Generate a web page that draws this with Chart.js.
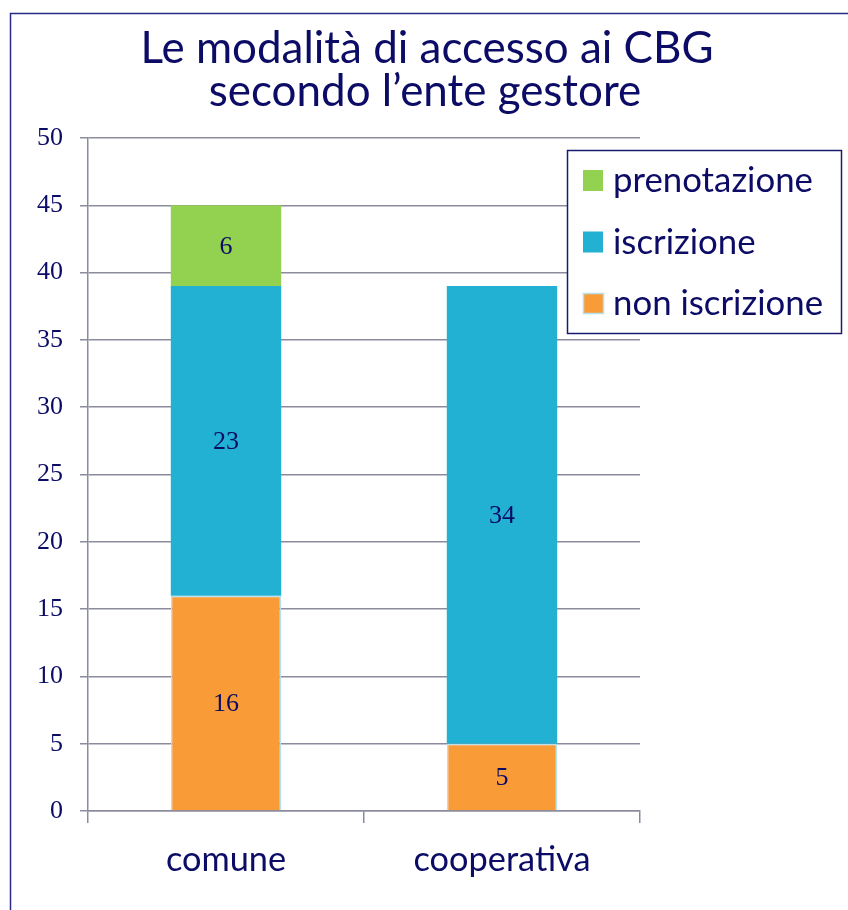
<!DOCTYPE html>
<html><head><meta charset="utf-8">
<script src="https://cdn.jsdelivr.net/npm/chart.js@4"></script>
<style>html,body{margin:0;padding:0;background:#fff;}canvas{display:block;}</style>
</head><body>
<canvas id="c" width="848" height="910"></canvas>
<script>
const titleLines = ['Le modalità di accesso ai CBG', 'secondo l\u2019ente gestore'];
const categories = ['comune', 'cooperativa'];
const seriesNames = ['non iscrizione', 'iscrizione', 'prenotazione'];
const nonIscrizione = [16, 5];
const iscrizione = [23, 34];
const prenotazione = [6, null];
const yMin = 0, yMax = 50, yStep = 5;

const NAVY = '#0c0c66';
const GRID = '#8b8b9e';
const SANS = 'Lato, "Open Sans", sans-serif';
const SERIF = '"Liberation Serif", "Times New Roman", serif';

const mctx = document.createElement('canvas').getContext('2d');
function fitSize(text, family, width) {
  mctx.font = '100px ' + family;
  return 100 * width / mctx.measureText(text).width;
}
const titleSize = fitSize(titleLines[0], SANS, 573);
const xLabelSize = fitSize('cooperativa', SANS, 177);
const legendSize = fitSize('prenotazione', SANS, 200);

const decor = {
  id: 'decor',
  beforeDraw(chart) {
    const ctx = chart.ctx;
    ctx.save();
    ctx.fillStyle = '#fff';
    ctx.fillRect(0, 0, chart.width, chart.height);
    ctx.strokeStyle = '#2a2a86';
    ctx.lineWidth = 1.5;
    ctx.beginPath();
    ctx.moveTo(10.5, chart.height);
    ctx.lineTo(10.5, 13.5);
    ctx.lineTo(chart.width, 13.5);
    ctx.stroke();
    ctx.fillStyle = NAVY;
    ctx.textAlign = 'center';
    ctx.textBaseline = 'alphabetic';
    ctx.font = titleSize + 'px ' + SANS;
    ctx.fillText(titleLines[0], 427, 63);
    ctx.fillText(titleLines[1], 425, 106);
    ctx.restore();
  },
  afterDatasetsDraw(chart) {
    const ctx = chart.ctx;
    ctx.save();
    ctx.fillStyle = NAVY;
    ctx.font = '26px ' + SERIF;
    ctx.textAlign = 'center';
    ctx.textBaseline = 'middle';
    chart.data.datasets.forEach((ds, di) => {
      const meta = chart.getDatasetMeta(di);
      meta.data.forEach((el, i) => {
        const v = ds.data[i];
        if (v === null || v === undefined) return;
        ctx.fillText(String(v), el.x, (el.y + el.base) / 2 + 1);
      });
    });
    // legend
    ctx.fillStyle = '#fff';
    ctx.fillRect(567, 150, 274, 183);
    ctx.strokeStyle = '#1a1a70';
    ctx.lineWidth = 1.5;
    ctx.strokeRect(567.5, 150.5, 274, 183);
    const order = chart.data.datasets.map((d, i) => i).reverse();
    ctx.font = legendSize + 'px ' + SANS;
    ctx.textAlign = 'left';
    ctx.textBaseline = 'alphabetic';
    order.forEach((di, k) => {
      const ds = chart.data.datasets[di];
      const top = 170 + k * 61.5;
      ctx.fillStyle = ds.backgroundColor;
      ctx.fillRect(583, top, 20, 21);
      if (ds.legendBorder) {
        ctx.strokeStyle = ds.borderColor;
        ctx.lineWidth = 1.5;
        ctx.strokeRect(583.5, top + 0.5, 20, 20);
      }
      ctx.fillStyle = NAVY;
      ctx.fillText(ds.label, 613, top + 22);
    });
    ctx.restore();
  }
};

new Chart(document.getElementById('c'), {
  type: 'bar',
  data: {
    labels: categories,
    datasets: [
      { label: seriesNames[0], data: nonIscrizione, backgroundColor: '#f99b37', borderColor: '#b5e0ee', borderWidth: 1.5, legendBorder: true },
      { label: seriesNames[1], data: iscrizione, backgroundColor: '#22b0d3', borderColor: '#22b0d3', borderWidth: 0 },
      { label: seriesNames[2], data: prenotazione, backgroundColor: '#93d150', borderColor: '#93d150', borderWidth: 0 }
    ]
  },
  options: {
    responsive: false,
    animation: false,
    devicePixelRatio: 1,
    layout: { padding: { top: 138, right: 208, left: 0, bottom: 0 } },
    datasets: { bar: { categoryPercentage: 1, barPercentage: 0.4 } },
    plugins: { legend: { display: false }, title: { display: false }, tooltip: { enabled: false } },
    scales: {
      x: {
        stacked: true,
        offset: true,
        afterFit(s) { s.height = 99; },
        grid: { offset: true, drawOnChartArea: false, tickLength: 12, color: GRID, lineWidth: 1.5 },
        border: { color: GRID, width: 1.5 },
        ticks: { color: NAVY, font: { family: SANS, size: xLabelSize }, padding: 16 }
      },
      y: {
        stacked: true,
        min: yMin, max: yMax,
        afterFit(s) { s.width = 88; },
        ticks: { stepSize: yStep, color: NAVY, font: { family: SERIF, size: 26 }, padding: 17 },
        grid: { color: GRID, lineWidth: 1.5, tickLength: 8 },
        border: { color: GRID, width: 1.5 }
      }
    }
  },
  plugins: [decor]
});
</script>
</body></html>
